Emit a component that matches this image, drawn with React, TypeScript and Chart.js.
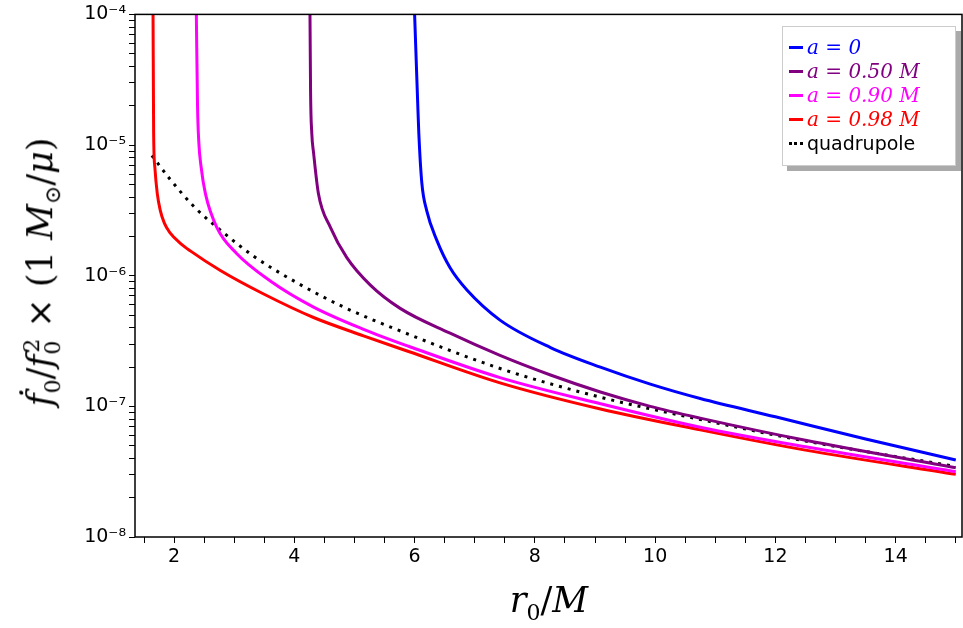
import { useEffect, useRef } from "react";
import { Chart, registerables } from "chart.js";

Chart.register(...registerables);

// y values are stored as powers of ten (log10 of the plotted value)
const blueX = [6.0, 6.05, 6.07, 6.12, 6.2, 6.37, 6.59, 6.87, 7.42, 8.26, 9.09, 9.92, 10.75, 12.0, 13.5, 15];
const blueLog = [-4.0, -4.66, -4.91, -5.29, -5.5, -5.73, -5.94, -6.11, -6.34, -6.55, -6.7, -6.83, -6.94, -7.08, -7.25, -7.41];

const purpleX = [4.26, 4.27, 4.29, 4.32, 4.4, 4.6, 4.87, 5.26, 5.76, 6.59, 7.42, 8.26, 9.09, 9.92, 10.75, 12.5, 15];
const purpleLog = [-4.0, -4.6, -4.91, -5.06, -5.37, -5.63, -5.86, -6.07, -6.25, -6.44, -6.61, -6.76, -6.89, -7.0, -7.09, -7.26, -7.47];

const magentaX = [2.37, 2.39, 2.41, 2.45, 2.52, 2.71, 3.04, 3.6, 4.32, 5.15, 5.9, 7.42, 9.09, 10.75, 12.5, 15];
const magentaLog = [-4.0, -4.7, -4.97, -5.17, -5.37, -5.63, -5.83, -6.04, -6.24, -6.41, -6.54, -6.78, -6.98, -7.16, -7.31, -7.5];

const redX = [1.65, 1.66, 1.68, 1.72, 1.77, 1.84, 1.93, 2.1, 2.27, 2.77, 3.49, 4.32, 5.15, 5.9, 7.42, 9.09, 10.75, 12.5, 15];
const redLog = [-4.0, -4.91, -5.17, -5.37, -5.5, -5.6, -5.67, -5.75, -5.81, -5.96, -6.14, -6.32, -6.46, -6.58, -6.82, -7.02, -7.18, -7.335, -7.52];

const quadX = [1.63, 1.93, 2.35, 2.82, 3.32, 3.99, 4.82, 5.8, 7.42, 9.09, 10.75, 12.5, 15];
const quadLog = [-5.08, -5.26, -5.48, -5.67, -5.85, -6.04, -6.24, -6.43, -6.71, -6.93, -7.1, -7.265, -7.46];

const xTicks = [2, 4, 6, 8, 10, 12, 14];
const yDecades = [-8, -7, -6, -5, -4];

const SUP: Record<string, string> = { "-": "⁻", "4": "⁴", "5": "⁵", "6": "⁶", "7": "⁷", "8": "⁸" };
const pts = (xs: number[], logs: number[]) => xs.map((x, i) => ({ x, y: Math.pow(10, logs[i]) }));

const frame = {
  id: "frame",
  afterDraw(chart: Chart) {
    const { ctx, chartArea: a } = chart;
    ctx.save();
    ctx.strokeStyle = "#000";
    ctx.lineWidth = 1.5;
    ctx.strokeRect(a.left, a.top, a.right - a.left - 1, a.bottom - a.top);
    ctx.restore();
  },
};

const legendItems = [
  { color: "#0000ff", label: "a = 0", math: true },
  { color: "#800080", label: "a = 0.50 M", math: true },
  { color: "#ff00ff", label: "a = 0.90 M", math: true },
  { color: "#ff0000", label: "a = 0.98 M", math: true },
  { color: "#000", label: "quadrupole", math: false },
];

export default function App() {
  const ref = useRef<HTMLCanvasElement>(null);

  useEffect(() => {
    document.body.style.margin = "0";
    if (!ref.current) return;
    const line = (data: { x: number; y: number }[], color: string, dash: number[] = []) => ({
      data,
      borderColor: color,
      borderWidth: 3,
      borderDash: dash,
      pointRadius: 0,
      cubicInterpolationMode: "monotone" as const,
      fill: false,
    });
    const chart = new Chart(ref.current, {
      type: "line",
      data: {
        datasets: [
          line(pts(blueX, blueLog), "#0000ff"),
          line(pts(purpleX, purpleLog), "#800080"),
          line(pts(magentaX, magentaLog), "#ff00ff"),
          line(pts(redX, redLog), "#ff0000"),
          line(pts(quadX, quadLog), "#000", [3, 6]),
        ],
      },
      options: {
        animation: false,
        responsive: false,
        layout: { padding: { top: 14, right: 0 } },
        plugins: { legend: { display: false }, tooltip: { enabled: false } },
        scales: {
          x: {
            type: "linear",
            min: 1.35,
            max: 15.12,
            afterBuildTicks: (s: any) => {
              const t = [];
              for (let v = 1.5; v <= 15; v += 0.5) t.push({ value: v });
              s.ticks = t;
            },
            afterFit: (s: any) => {
              s.height = 91;
            },
            grid: { drawOnChartArea: false, tickLength: 6, color: "#000", lineWidth: 1 },
            border: { display: false },
            ticks: {
              autoSkip: false,
              maxRotation: 0,
              color: "#000",
              font: { family: "DejaVu Sans", size: 19 },
              callback: (v: any) => (xTicks.includes(Number(v)) ? String(v) : ""),
            },
          },
          y: {
            type: "logarithmic",
            min: 1e-8,
            max: 1e-4,
            afterBuildTicks: (s: any) => {
              const t = [];
              for (const d of yDecades) {
                for (let m = 1; m <= 9; m++) {
                  if (d === -4 && m > 1) break;
                  t.push({ value: m * Math.pow(10, d), major: m === 1 });
                }
              }
              s.ticks = t;
            },
            afterFit: (s: any) => {
              s.width = 135;
            },
            grid: { drawOnChartArea: false, tickLength: 6, color: "#000", lineWidth: 1 },
            border: { display: false },
            ticks: {
              autoSkip: false,
              color: "#000",
              font: { family: "DejaVu Sans", size: 19 },
              callback: (v: any) => {
                const l = Math.log10(Number(v));
                if (Math.abs(l - Math.round(l)) > 1e-6) return "";
                return "10" + String(Math.round(l)).split("").map((c) => SUP[c] ?? c).join("");
              },
            },
          },
        },
      },
      plugins: [frame],
    });
    return () => chart.destroy();
  }, []);

  const serif = "'DejaVu Serif', 'Liberation Serif', serif";
  const sub = { fontSize: 22 };
  return (
    <div style={{ position: "relative", width: 963, height: 628, background: "#fff" }}>
      <canvas ref={ref} width={963} height={628} />
      <div
        style={{
          position: "absolute",
          left: 42,
          top: 272,
          transform: "translate(-50%, -50%) rotate(-90deg)",
          fontFamily: serif,
          fontSize: 35,
          whiteSpace: "nowrap",
        }}
      >
        <i>ḟ</i><sub style={sub}>0</sub>/<i>f</i>
        <sub style={{ ...sub, marginRight: -12 }}>0</sub>
        <sup style={sub}>2</sup> × (1 <i>M</i><sub style={sub}>⊙</sub>/<i>μ</i>)
      </div>
      <div
        style={{
          position: "absolute",
          left: 549,
          top: 602,
          transform: "translate(-50%, -50%)",
          fontFamily: serif,
          fontSize: 35,
          whiteSpace: "nowrap",
        }}
      >
        <i>r</i><sub style={sub}>0</sub>/<i>M</i>
      </div>
      <div
        style={{
          position: "absolute",
          left: 782,
          top: 26,
          width: 174,
          height: 140,
          boxSizing: "border-box",
          border: "1.5px solid #ccc",
          background: "#fff",
          boxShadow: "5px 5px 0 #aaa",
          padding: "8px 0 0 6px",
        }}
      >
        {legendItems.map((it) => (
          <div key={it.label} style={{ display: "flex", alignItems: "center", height: 24 }}>
            <span
              style={{
                display: "inline-block",
                width: 14,
                height: 0,
                borderTop: it.math ? `3px solid ${it.color}` : `3px dotted ${it.color}`,
                marginRight: 4,
              }}
            />
            <span
              style={{
                color: it.color,
                fontFamily: it.math ? serif : "'DejaVu Sans', sans-serif",
                fontStyle: it.math ? "italic" : "normal",
                fontSize: it.math ? 20 : 19,
                whiteSpace: "nowrap",
              }}
            >
              {it.label}
            </span>
          </div>
        ))}
      </div>
    </div>
  );
}
